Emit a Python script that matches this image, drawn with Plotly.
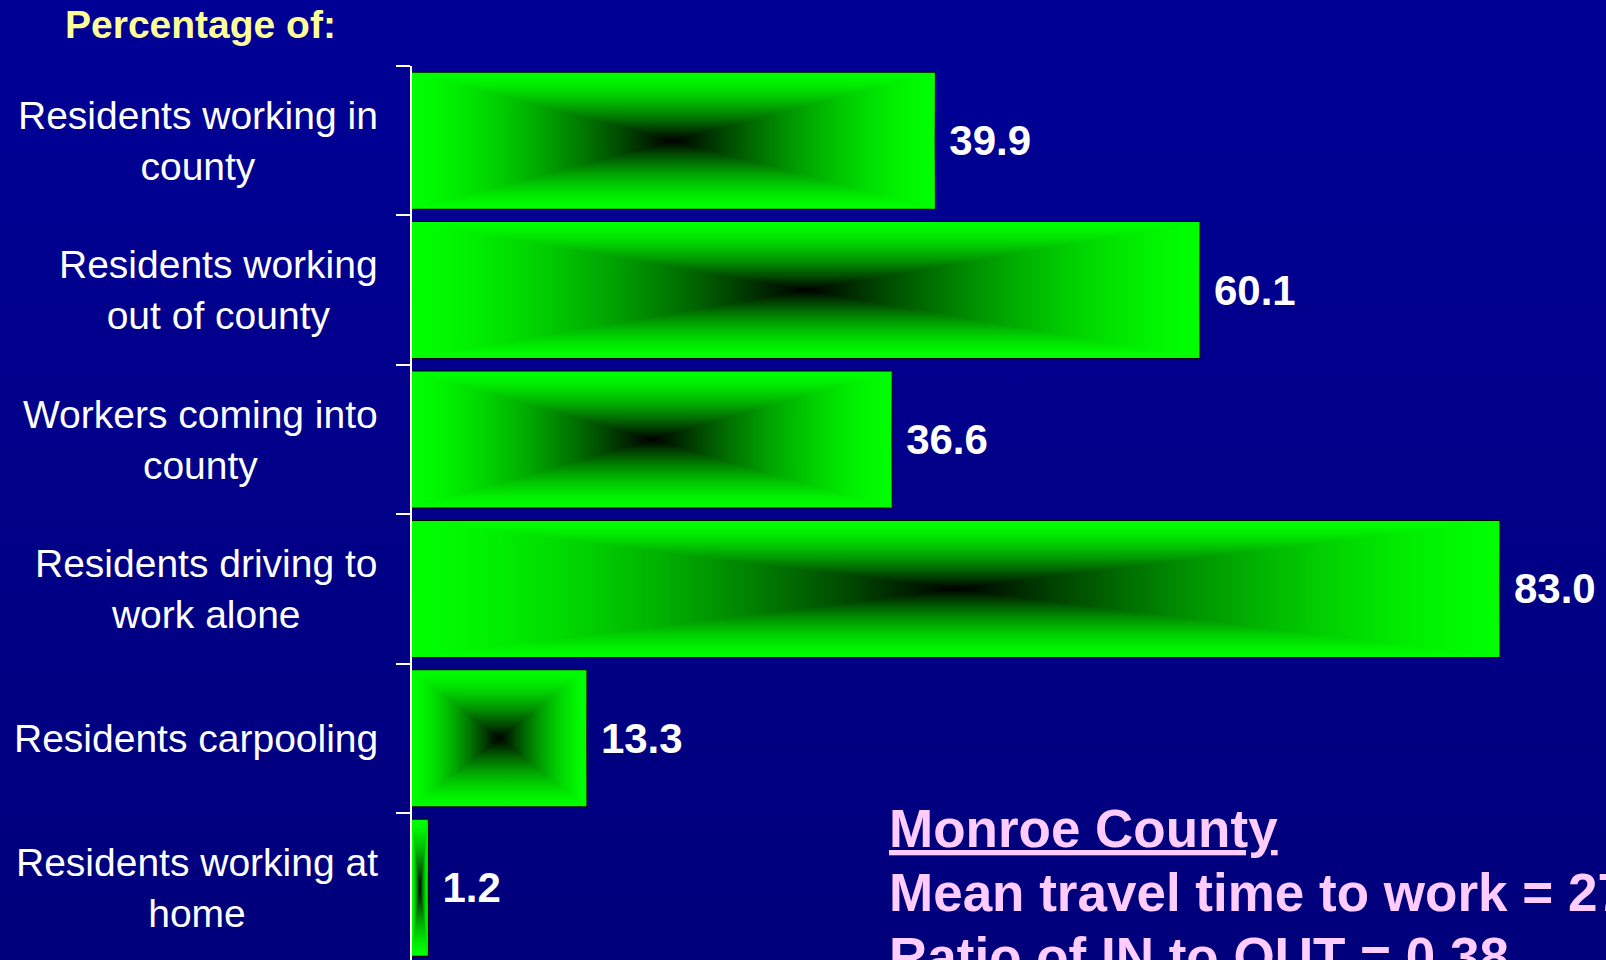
import plotly.graph_objects as go

# ---------------- data ----------------
categories = [
    "Residents working in<br>county",
    "Residents working<br>out of county",
    "Workers coming into<br>county",
    "Residents driving to<br>work alone",
    "Residents carpooling",
    "Residents working at<br>home",
]
values = [39.9, 60.1, 36.6, 83.0, 13.3, 1.2]
title_text = "Percentage of:"
county_name = "Monroe County"
note_lines = ["Mean travel time to work = 27", "Ratio of IN to OUT = 0.38"]

# ---------------- style ----------------
W, H = 1606, 960
AXIS_LEFT_PX = 412
TOP_PX = 66
ROW_PX = 149.4
PX_PER_UNIT = 13.1
BAR_W = 0.91
BG_TOP = "#000096"
BG_BOTTOM = "#00007C"
LABEL_FONT = "Liberation Sans, Arial, sans-serif"
BOLD_FONT = "Liberation Sans, Arial, sans-serif"


def green(s):
    # s = 0 at the bar edge (bright green), s = 1 at the centre (black)
    g = int(round(255 * (1 - s ** 1.5)))
    return f"rgb(0,{g},0)"


N = 20
edge_to_centre = [[i / N, green(i / N)] for i in range(N + 1)]
centre_to_edge = [[i / N, green(1 - i / N)] for i in range(N + 1)]
edge_centre_edge = [[i / (2 * N), green(1 - abs(2 * (i / (2 * N)) - 1))] for i in range(2 * N + 1)]

positions = list(range(len(values)))
fig = go.Figure()

# background gradient (full paper)
fig.add_trace(go.Scatter(
    x=[0, 1, 1, 0, 0], y=[0, 0, 1, 1, 0], xaxis="x", yaxis="y",
    mode="lines", line=dict(width=0), fill="toself",
    fillgradient=dict(type="vertical", start=0, stop=1,
                      colorscale=[[0, BG_BOTTOM], [1, BG_TOP]]),
    hoverinfo="skip", showlegend=False,
))

hw = BAR_W / 2
for v, p in zip(values, positions):
    cx = v / 2
    # full rectangle, vertical gradient
    fig.add_trace(go.Scatter(
        x=[0, v, v, 0, 0], y=[p - hw, p - hw, p + hw, p + hw, p - hw],
        xaxis="x2", yaxis="y2", mode="lines", line=dict(width=0), fill="toself",
        fillgradient=dict(type="vertical", start=p - hw, stop=p + hw,
                          colorscale=edge_centre_edge),
        hoverinfo="skip", showlegend=False,
    ))
    # left triangle, horizontal gradient
    fig.add_trace(go.Scatter(
        x=[0, cx, 0, 0], y=[p - hw, p, p + hw, p - hw],
        xaxis="x2", yaxis="y2", mode="lines", line=dict(width=0), fill="toself",
        fillgradient=dict(type="horizontal", start=0, stop=cx,
                          colorscale=edge_to_centre),
        hoverinfo="skip", showlegend=False,
    ))
    # right triangle, horizontal gradient
    fig.add_trace(go.Scatter(
        x=[v, cx, v, v], y=[p - hw, p, p + hw, p - hw],
        xaxis="x2", yaxis="y2", mode="lines", line=dict(width=0), fill="toself",
        fillgradient=dict(type="horizontal", start=cx, stop=v,
                          colorscale=centre_to_edge),
        hoverinfo="skip", showlegend=False,
    ))

# bars (outline + value labels)
fig.add_trace(go.Bar(
    x=values, y=positions, orientation="h", width=BAR_W,
    xaxis="x2", yaxis="y2",
    marker=dict(color="rgba(0,0,0,0)", line=dict(color="black", width=2)),
    texttemplate="\u00a0%{x:.1f}", textposition="outside", cliponaxis=False,
    textfont=dict(family=BOLD_FONT, size=42, color="white", weight="bold"),
    hoverinfo="skip", showlegend=False,
))

plot_h = H - TOP_PX
y_units = plot_h / ROW_PX
x_units = (W - AXIS_LEFT_PX) / PX_PER_UNIT

annotations = []
for c, p in zip(categories, positions):
    annotations.append(dict(
        text=c, x=380 / W, xref="paper", xanchor="right", y=p, yref="y2",
        yanchor="middle", align="center", showarrow=False,
        font=dict(family=LABEL_FONT, size=39, color="white"),
    ))
annotations.append(dict(
    text=title_text, x=200 / W, xref="paper", xanchor="center",
    y=1 - 25 / H, yref="paper", yanchor="middle", showarrow=False,
    font=dict(family=BOLD_FONT, size=39, color="#FFFF99", weight="bold"),
))
bottom_lines = [f"<u>{county_name}</u>"] + note_lines
for k, t in enumerate(bottom_lines):
    annotations.append(dict(
        text=t, x=887 / W, xref="paper", xanchor="left",
        y=1 - (828 + 64 * k) / H, yref="paper", yanchor="middle",
        showarrow=False, align="left",
        font=dict(family=BOLD_FONT, size=53, color="#FFCCFF", weight="bold"),
    ))

fig.update_layout(
    width=W, height=H, autosize=False,
    margin=dict(l=0, r=0, t=0, b=0, pad=0),
    paper_bgcolor="#00008A", plot_bgcolor="rgba(0,0,0,0)",
    hovermode=False, showlegend=False,
    xaxis=dict(domain=[0, 1], range=[0, 1], visible=False, fixedrange=True),
    yaxis=dict(domain=[0, 1], range=[0, 1], visible=False, fixedrange=True),
    xaxis2=dict(domain=[AXIS_LEFT_PX / W, 1], range=[0, x_units], visible=False,
                anchor="y2", fixedrange=True),
    yaxis2=dict(domain=[0, plot_h / H], range=[y_units - 0.5, -0.5], anchor="x2",
                tickmode="array",
                tickvals=[p - 0.5 for p in positions],
                ticktext=["" for _ in positions],
                ticks="outside", ticklen=14, tickwidth=2, tickcolor="white",
                showline=True, linecolor="white", linewidth=2,
                showgrid=False, zeroline=False, fixedrange=True),
    annotations=annotations,
)

fig.write_html("out.html", config={"displayModeBar": False},
               post_script="document.body.style.margin='0';document.body.style.overflow='hidden';")
